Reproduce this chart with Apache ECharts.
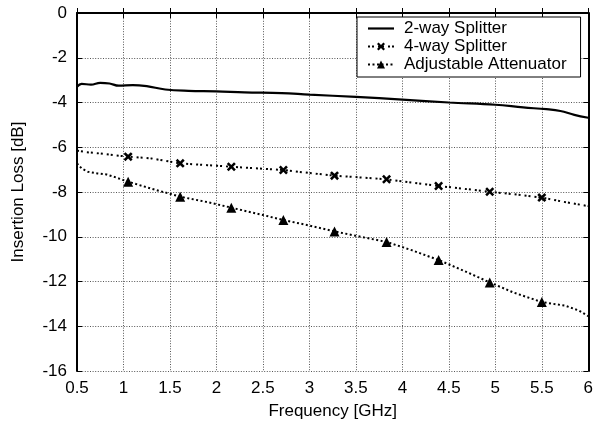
<!DOCTYPE html>
<html>
<head>
<meta charset="utf-8">
<script src="https://cdn.jsdelivr.net/npm/echarts@6/dist/echarts.min.js"></script>
<style>html,body{margin:0;padding:0;background:#fff}#c{width:596px;height:428px}</style>
</head>
<body>
<div id="c"></div>
<script>
var seriesNames = ['2-way Splitter', '4-way Splitter', 'Adjustable Attenuator'];
var xTicks = [0.5, 1, 1.5, 2, 2.5, 3, 3.5, 4, 4.5, 5, 5.5, 6];
var yTicks = [-16, -14, -12, -10, -8, -6, -4, -2, 0];

var freq2way = [0.5, 0.55, 0.65, 0.75, 0.85, 0.95, 1.1, 1.25, 1.45, 1.7, 2.0, 2.3, 2.7, 3.0, 3.5, 4.0, 4.5, 5.0, 5.3, 5.55, 5.7, 5.85, 6.0];
var loss2way = [-3.3, -3.17, -3.2, -3.12, -3.15, -3.25, -3.22, -3.27, -3.42, -3.48, -3.5, -3.55, -3.58, -3.65, -3.75, -3.87, -4.0, -4.1, -4.22, -4.3, -4.38, -4.55, -4.68];

var freq4way = [0.5, 0.6, 0.75, 0.9, 1.05, 1.3, 1.61, 1.9, 2.16, 2.45, 2.72, 3.0, 3.27, 3.55, 3.83, 4.1, 4.39, 4.65, 4.94, 5.2, 5.5, 5.75, 6.0];
var loss4way = [-6.15, -6.22, -6.28, -6.36, -6.42, -6.5, -6.72, -6.8, -6.87, -6.95, -7.02, -7.15, -7.27, -7.35, -7.43, -7.58, -7.73, -7.85, -7.99, -8.1, -8.25, -8.45, -8.63];

var freqAtt = [0.5, 0.55, 0.62, 0.72, 0.82, 0.92, 1.05, 1.3, 1.61, 1.9, 2.16, 2.45, 2.72, 3.0, 3.27, 3.55, 3.83, 4.1, 4.39, 4.65, 4.94, 5.2, 5.5, 5.75, 5.9, 6.0];
var lossAtt = [-6.72, -6.95, -7.1, -7.17, -7.22, -7.35, -7.54, -7.85, -8.21, -8.45, -8.7, -8.98, -9.25, -9.5, -9.76, -10.0, -10.23, -10.6, -11.04, -11.5, -12.04, -12.5, -12.92, -13.08, -13.3, -13.55];

var markerFreqs = [1.05, 1.61, 2.16, 2.72, 3.27, 3.83, 4.39, 4.94, 5.5];

var crossPath = 'path://M2,0L5,3L8,0L10,2L7,5L10,8L8,10L5,7L2,10L0,8L3,5L0,2Z';
var solidIcon = 'path://M0,0L26,0L26,2.2L0,2.2Z';

function build(fs, vs, sym) {
  return fs.map(function (f, i) {
    var isM = markerFreqs.indexOf(f) >= 0;
    return { value: [f, vs[i]], symbol: isM ? sym : 'none' };
  });
}

var font = 'Liberation Sans';
var fs = 17;
var gridStyle = { color: '#555', width: 1, type: [1, 1.6] };
var chart = echarts.init(document.getElementById('c'), null, { renderer: 'canvas' });
chart.setOption({
  animation: false,
  backgroundColor: '#fff',
  textStyle: { fontFamily: font },
  grid: { left: 77, right: 5, top: 13, bottom: 57 },
  legend: {
    orient: 'vertical',
    left: 357, top: 17,
    backgroundColor: '#fff',
    borderColor: '#000', borderWidth: 1, borderRadius: 0,
    padding: [3, 14, 4, 10],
    itemWidth: 26, itemHeight: 10, itemGap: 1,
    textStyle: { fontFamily: font, fontSize: fs, color: '#000', padding: [0, 0, 0, 5] },
    data: [
      { name: seriesNames[0], icon: solidIcon },
      { name: seriesNames[1] },
      { name: seriesNames[2] }
    ]
  },
  xAxis: [{
    type: 'value', min: 0.5, max: 6, interval: 0.5,
    name: 'Frequency [GHz]', nameLocation: 'middle', nameGap: 32,
    nameTextStyle: { fontFamily: font, fontSize: fs, color: '#000' },
    axisLine: { lineStyle: { color: '#000', width: 2 } },
    axisTick: { inside: true, length: 5, lineStyle: { color: '#000', width: 1 } },
    axisLabel: { fontFamily: font, fontSize: fs, color: '#000', margin: 9 },
    splitLine: { show: true, lineStyle: gridStyle }
  }, {
    type: 'value', min: 0.5, max: 6, interval: 0.5, position: 'top',
    axisLine: { show: true, lineStyle: { color: '#000', width: 1.5 } },
    axisTick: { show: true, inside: true, length: 5, lineStyle: { color: '#000', width: 1 } },
    axisLabel: { show: false }, splitLine: { show: false }
  }],
  yAxis: [{
    type: 'value', min: -16, max: 0, interval: 2,
    name: 'Insertion Loss [dB]', nameLocation: 'middle', nameGap: 50, nameRotate: 90,
    nameTextStyle: { fontFamily: font, fontSize: fs, color: '#000' },
    axisLine: { show: true, lineStyle: { color: '#000', width: 2 } },
    axisTick: { show: true, inside: true, length: 5, lineStyle: { color: '#000', width: 1 } },
    axisLabel: { fontFamily: font, fontSize: fs, color: '#000', margin: 10 },
    splitLine: { show: true, lineStyle: gridStyle }
  }, {
    type: 'value', min: -16, max: 0, interval: 2, position: 'right',
    axisLine: { show: true, lineStyle: { color: '#000', width: 2 } },
    axisTick: { show: true, inside: true, length: 5, lineStyle: { color: '#000', width: 1 } },
    axisLabel: { show: false }, splitLine: { show: false }
  }],
  series: [{
    name: seriesNames[0], type: 'line', smooth: 0.4,
    symbol: 'none',
    lineStyle: { color: '#000', width: 2.2, type: 'solid' },
    itemStyle: { color: '#000' },
    data: freq2way.map(function (f, i) { return [f, loss2way[i]]; }),
    z: 5
  }, {
    name: seriesNames[1], type: 'line', smooth: false,
    symbol: crossPath, symbolSize: 9, showSymbol: true, showAllSymbol: true,
    lineStyle: { color: '#000', width: 2, type: [2, 2, 2, 4] },
    itemStyle: { color: '#000' },
    data: build(freq4way, loss4way, crossPath),
    z: 4
  }, {
    name: seriesNames[2], type: 'line', smooth: false,
    symbol: 'triangle', symbolSize: 10, showSymbol: true, showAllSymbol: true,
    lineStyle: { color: '#000', width: 2, type: [2, 2.5] },
    itemStyle: { color: '#000' },
    data: build(freqAtt, lossAtt, 'triangle'),
    z: 4
  }]
});
</script>
</body>
</html>
